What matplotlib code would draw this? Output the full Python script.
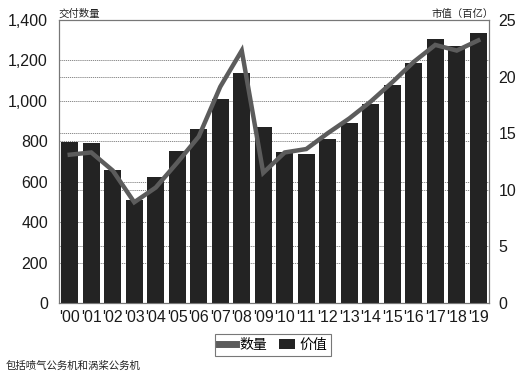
import matplotlib.pyplot as plt
from matplotlib.lines import Line2D
from matplotlib.patches import Patch

plt.rcParams['font.family'] = ['Liberation Sans', 'Noto Sans CJK SC', 'DejaVu Sans']

years = ["'00", "'01", "'02", "'03", "'04", "'05", "'06", "'07", "'08", "'09",
         "'10", "'11", "'12", "'13", "'14", "'15", "'16", "'17", "'18", "'19"]
# deliveries (left axis)
deliveries = [795, 790, 658, 510, 623, 752, 860, 1009, 1138, 871,
              747, 737, 811, 891, 985, 1079, 1188, 1306, 1272, 1336]
# value in tens of billions (right axis)
value = [13.1, 13.3, 11.7, 8.9, 10.2, 12.4, 14.7, 19.1, 22.3, 11.5,
         13.3, 13.6, 15.0, 16.3, 17.8, 19.5, 21.3, 22.8, 22.3, 23.2]

left_ticks = [0, 200, 400, 600, 800, 1000, 1200, 1400]
right_ticks = [0, 5, 10, 15, 20, 25]

fig = plt.figure(figsize=(5.16, 3.71), dpi=100)
ax = fig.add_axes([59 / 516, 1 - 303 / 371, 430 / 516, 283 / 371])

x = range(len(years))
ax.bar(x, deliveries, width=0.8, color='#232323', zorder=3)
ax.set_xlim(-0.5, len(years) - 0.5)
ax.set_ylim(0, 1400)
ax.set_yticks(left_ticks)
ax.set_yticklabels([f'{t:,}' for t in left_ticks])
ax.set_xticks(list(x))
ax.set_xticklabels(years)
ax.tick_params(axis='both', length=0, labelsize=11.5, colors='#1a1a1a')
ax.tick_params(axis='y', pad=8)
ax.tick_params(axis='x', pad=5)

# grid lines for both scales, kept behind the bars
for t in left_ticks[1:-1]:
    ax.axhline(t, color='#777777', lw=0.6, ls=(0, (1.5, 1)), zorder=1)
for t in right_ticks[1:-1]:
    ax.axhline(t * 1400 / 25, color='#777777', lw=0.6, ls=(0, (1.5, 1)), zorder=1)

ax2 = ax.twinx()
ax2.plot(list(x), value, color='#5c5c5c', lw=3.2, solid_joinstyle='miter')
ax2.set_ylim(0, 25)
ax2.set_yticks(right_ticks)
ax2.tick_params(axis='y', length=0, labelsize=11.5, pad=7, colors='#1a1a1a')

for a in (ax, ax2):
    for s in a.spines.values():
        s.set_color('#777777')
        s.set_linewidth(0.8)

fig.text(58 / 516, 1 - 14 / 371, '交付数量', fontsize=7.5, family='Noto Sans CJK SC',
         va='center', ha='left', color='#222222')
fig.text(494 / 516, 1 - 14 / 371, '市值（百亿）', fontsize=7.5, family='Noto Sans CJK SC',
         va='center', ha='right', color='#222222')
fig.text(6 / 516, 1 - 366 / 371, '包括喷气公务机和涡桨公务机', fontsize=7.5,
         family='Noto Sans CJK SC', va='center', ha='left', color='#222222')

handles = [Line2D([], [], color='#5c5c5c', lw=5),
           Patch(facecolor='#232323')]
leg = fig.legend(handles, ['数量', '价值'], loc='center', ncol=2,
                 bbox_to_anchor=(273 / 516, 1 - 345 / 371),
                 prop={'family': 'Noto Sans CJK SC', 'size': 10},
                 fancybox=False, edgecolor='#777777', framealpha=1,
                 handlelength=1.2, handletextpad=0.3, columnspacing=0.8,
                 borderpad=0.3)
leg.get_frame().set_linewidth(0.8)

fig.savefig('out.png', dpi=100)
